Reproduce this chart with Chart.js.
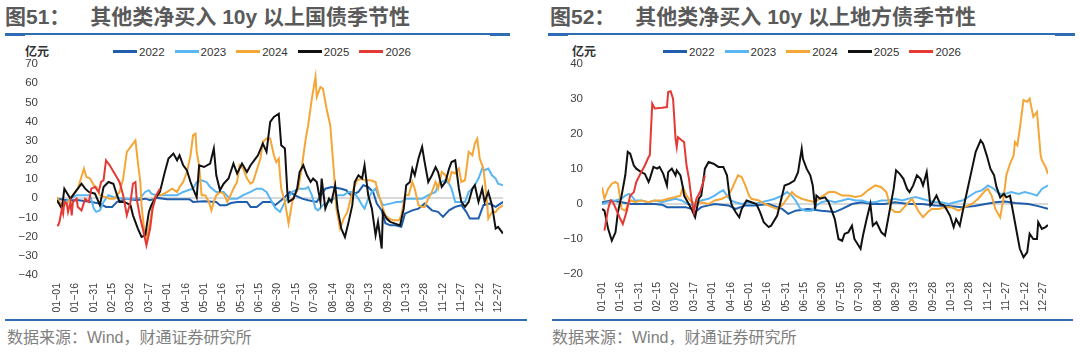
<!DOCTYPE html>
<html><head><meta charset="utf-8">
<script src="https://cdn.jsdelivr.net/npm/chart.js@4"></script>
<style>
body{margin:0;background:#fff;width:1080px;height:353px;overflow:hidden;position:relative;font-family:"Liberation Sans","Noto Sans CJK SC",sans-serif;}
.title{position:absolute;top:6px;font-size:21px;line-height:21px;font-weight:bold;color:#5a5a5a;white-space:nowrap;}
.title .gap{display:inline-block;width:20px;}
.rule{position:absolute;height:2px;background:#2e6db4;}
.cap{position:absolute;height:3px;background:#2e6db4;}
.unit{position:absolute;top:44px;font-size:12px;line-height:14px;font-weight:bold;color:#333;font-family:"Noto Sans CJK SC",sans-serif;}
.legend{position:absolute;top:44px;height:15px;display:flex;align-items:center;font-size:11.5px;color:#333;}
.legend .item{display:flex;align-items:center;margin-right:10px;}
.legend .sw{width:24px;height:3px;margin-right:2px;}
.src{position:absolute;top:330px;font-size:16px;line-height:16px;color:#808080;white-space:nowrap;}
canvas{position:absolute;top:56px;}
</style>
</head><body>

<div class="title" style="left:5px">图51：<span class="gap"></span>其他类净买入 10y 以上国债季节性</div>
<div class="title" style="left:550px">图52：<span class="gap"></span>其他类净买入 10y 以上地方债季节性</div>
<div class="rule" style="left:5px;width:505px;top:33px"></div>
<div class="cap" style="left:5px;width:20px;top:33px"></div>
<div class="cap" style="left:490px;width:20px;top:33px"></div>
<div class="rule" style="left:548px;width:527px;top:33px"></div>
<div class="cap" style="left:548px;width:20px;top:33px"></div>
<div class="cap" style="left:1055px;width:20px;top:33px"></div>

<div class="unit" style="left:25px">亿元</div>
<div class="unit" style="left:572px">亿元</div>
<div class="legend" id="legL" style="left:113px"></div>
<div class="legend" id="legR" style="left:663px"></div>

<canvas id="cL" width="540" height="262" style="left:0px"></canvas>
<canvas id="cR" width="540" height="262" style="left:540px"></canvas>

<div class="rule" style="left:5px;width:522px;top:319px"></div>
<div class="rule" style="left:552px;width:521px;top:319px"></div>
<div class="src" style="left:7px">数据来源：Wind，财通证券研究所</div>
<div class="src" style="left:552px">数据来源：Wind，财通证券研究所</div>

<script>
// categories: x tick labels (every 15th day of the year, day index 0 = 01-01)
const tickLabels = ['01−01','01−16','01−31','02−15','03−02','03−17','04−01','04−16','05−01','05−16','05−31','06−15','06−30','07−15','07−30','08−14','08−29','09−13','09−28','10−13','10−28','11−12','11−27','12−12','12−27'];
const seriesNames = ['2022','2023','2024','2025','2026'];
const seriesColors = ['#1f5eac','#5ab6f2','#f4a637','#111111','#e53935'];

// left chart: 10y+ treasury bonds, [dayIndex, value(亿元)]
const L2022 = [[0,-0.2],[8,-1],[18,-1],[28,-1.9],[35,-2.8],[40,-4.5],[45,-4.5],[49,-1.9],[57,-0.2],[65,-1],[72,-0.2],[76,-1],[82,0.2],[90,-0.5],[98,-0.5],[108,-0.5],[111,-1.9],[120,-1.5],[130,-1.9],[133,-3.6],[138,-3.6],[142,-2.5],[147,-1.9],[155,-1.9],[158,-4.5],[163,-4.5],[168,-1.9],[175,-1.9],[178,-3.6],[183,-1],[186,0.7],[190,3.3],[194,1.6],[200,-0.2],[205,-1],[212,-1.9],[216,2],[219,5],[224,5.9],[232,5],[236,4.2],[240,1.6],[246,3.3],[250,6.8],[254,5.9],[258,3.3],[261,-2.8],[265,-6.3],[268,-13],[272,-14.1],[276,-14.1],[281,-14.9],[284,-8],[290,-6.3],[295,-5.4],[300,-2.8],[306,-6.3],[311,-7.1],[315,-9.7],[320,-6.3],[325,-4.5],[330,-3.6],[334,-7.1],[337,-10.6],[344,-10.6],[348,-3.6],[353,-2.8],[358,-4.5],[364,-1.9]];
const L2023 = [[0,-1.9],[5,-2.8],[11,-0.2],[16,1.6],[22,1.6],[27,1.6],[30,-5.4],[32,-7.1],[35,-6.3],[38,-1.9],[42,1.6],[46,0.7],[51,0.2],[57,-0.2],[62,-0.2],[68,0.2],[72,3.3],[75,4.2],[77,2.4],[81,1.6],[87,1.6],[92,1.6],[98,1.6],[103,3.3],[107,4.2],[111,5],[114,8.5],[118,9.4],[122,8.5],[125,5.9],[130,3.3],[136,3.3],[141,-0.2],[147,-0.2],[152,1.6],[158,3.3],[163,5],[167,5],[171,3.3],[174,-0.2],[178,-5],[182,-7.1],[186,-1.9],[192,3.3],[197,5],[203,5],[205,5.9],[208,1.6],[211,-5.4],[213,-6.3],[217,-3.6],[222,-1.9],[226,-0.2],[229,1.6],[234,1.6],[238,3.3],[242,3.3],[246,-0.2],[249,-3.6],[251,-5.4],[254,-0.2],[257,3.3],[260,5],[262,1.6],[266,-3.6],[272,-2.8],[277,-1.9],[281,-1.9],[285,-0.2],[292,-0.2],[298,-0.2],[303,1.6],[309,3.3],[311,6.8],[314,8.5],[317,9.4],[320,7.6],[322,5],[325,-1.9],[329,-1.9],[333,-1.9],[336,3.3],[339,5],[341,6.8],[344,10.3],[347,15.5],[349,14.6],[352,15.5],[355,12],[358,10.3],[360,7.6],[364,6.8]];
const L2024 = [[0,0.7],[2,-1.9],[5,-4.5],[9,-1.9],[13,1.6],[17,5],[22,15.5],[24,11.1],[27,10.3],[30,6.8],[32,5.9],[35,1.6],[39,0.7],[43,-0.2],[47,-0.2],[51,3.3],[54,10.3],[57,24.2],[61,27.6],[64,30.2],[66,18.9],[68,8.5],[69,-3.6],[71,-15.8],[73,-20.2],[76,-12.3],[79,-0.2],[81,1.6],[85,1.6],[90,3.3],[94,5],[98,3.3],[100,5.9],[103,8.5],[106,13.7],[109,22.4],[111,32.8],[113,33.7],[114,24.2],[116,17.2],[118,1.6],[121,1.6],[124,-1.9],[126,-6.3],[128,-1.9],[130,1.6],[133,3.3],[136,2.4],[139,-1.9],[141,0.7],[144,5],[147,8.5],[149,17.2],[152,15.5],[155,10.3],[158,7.6],[160,8.5],[163,14.6],[166,20.7],[168,29.4],[171,31.1],[174,31.1],[177,22.4],[179,18.9],[181,20.7],[182,12],[183,5],[186,-1.9],[189,-13.2],[192,-1.9],[194,1.6],[197,5],[200,17.2],[203,31.1],[205,38.1],[208,52],[211,63.3],[212,52.8],[215,58],[217,57.2],[220,46.8],[223,38.1],[226,13.7],[228,-5.4],[231,-15.8],[234,-10.6],[237,-7.1],[239,-1.9],[242,5],[245,9.4],[249,10.3],[251,9.4],[256,9.4],[260,8.5],[262,3.3],[265,-3.6],[268,-8.9],[271,-10.6],[275,-11.5],[279,-11.5],[281,-8.9],[284,1.6],[287,1.6],[290,8.5],[292,5],[295,-3.6],[298,-4.5],[300,-4.5],[303,-0.2],[306,3.3],[309,8.5],[311,5],[314,13.7],[317,12],[320,8.5],[322,13.7],[325,12.9],[328,15.5],[330,8.5],[333,9.4],[336,24.2],[339,22.4],[341,28.5],[343,31.1],[345,20.7],[348,15.5],[351,-1.9],[352,-10.6],[355,-7.1],[358,-7.1],[360,-5.4],[364,-3.6]];
const L2025 = [[0,-1],[4,-5.4],[6,5],[11,-0.2],[15,3.3],[17,5],[20,7.6],[23,5],[26,3.3],[31,2.4],[35,-3.6],[38,5.9],[42,8.5],[46,7.6],[49,1.6],[51,-1.9],[55,-1.9],[60,-3.6],[62,-8.9],[66,-15.8],[69,-20.2],[72,-19.3],[75,-7.1],[77,-3.6],[80,-0.2],[84,3.3],[88,13.7],[91,20.7],[95,23.3],[98,19.8],[100,22.4],[103,17.2],[106,14.6],[109,8.5],[111,5],[114,0.5],[116,17.2],[120,16.3],[125,18.1],[128,25.9],[130,12],[133,4.2],[136,7.6],[140,10.3],[144,18.1],[147,12.9],[151,18.1],[155,13.7],[158,17.2],[162,20.7],[164,22.4],[168,28.5],[171,24.2],[174,39.8],[177,42.4],[181,44.1],[183,27.6],[186,25.9],[188,3.3],[189,-1.9],[193,-0.2],[196,5],[198,13.7],[201,17.2],[204,12],[207,8.5],[209,10.3],[212,8.5],[215,-1.9],[216,10.3],[219,-5.4],[222,-0.2],[224,-1.9],[227,6.8],[229,-5.4],[232,-15.8],[235,-20.2],[238,-12.3],[241,-3.6],[243,8.5],[246,12],[249,10.3],[251,17.2],[254,1.6],[257,-5.4],[260,-19.3],[262,-12.3],[265,-26.2],[266,-7.1],[269,-10.6],[272,-12.3],[276,-13.2],[280,-14.1],[283,-5.4],[285,6.8],[288,8.5],[290,15.5],[292,12],[295,20.7],[298,26.8],[300,19],[303,8.5],[306,12],[309,16.3],[311,13.7],[314,5.9],[317,8.5],[320,15.5],[322,18.9],[325,19.8],[328,5],[330,-1.9],[333,-4.5],[336,-1.9],[339,5],[341,6.8],[344,-1.9],[347,5],[349,-1.9],[352,3.3],[355,-3.6],[358,-15.8],[360,-14.9],[364,-18.4]];
const L2026 = [[0,-14],[1,-14.1],[2,-12.3],[4,-5.4],[5,-8],[6,-1.9],[8,-2.8],[9,-7.1],[11,-1.9],[12,-8.9],[13,-1.9],[16,-0.2],[17,-4.5],[20,-6.3],[23,-0.2],[26,-1.9],[28,5],[31,5.9],[34,3.3],[36,8.5],[38,9.4],[40,19.8],[43,17.2],[47,12.9],[51,8.5],[54,1.6],[57,-8.9],[60,-1.9],[62,7.6],[64,8.5],[65,-0.2],[68,-10.6],[70,-15.8],[73,-24.5],[76,-15.8],[78,-5.4],[81,1.6],[84,5]];

// right chart: 10y+ local government bonds
const R2022 = [[0,0.5],[8,1],[16,0.5],[24,0],[32,0],[43,0],[49,-0.2],[53,-0.9],[60,-0.9],[68,-0.9],[73,-1.4],[76,-2.3],[81,-0.9],[87,-0.4],[92,0],[103,-0.4],[109,-1.4],[117,-0.4],[125,-0.4],[136,0],[147,-1.4],[152,-2.8],[158,-1.9],[168,-1.4],[179,-1.9],[190,-2.3],[196,-1.4],[204,0],[212,0.5],[220,0],[231,0],[239,0.5],[250,0],[261,0],[272,-0.4],[283,-0.6],[294,-0.9],[304,-0.6],[313,0],[321,0.5],[329,0.7],[337,0.3],[348,0],[356,-0.6],[364,-1.4]];
const R2023 = [[0,0],[5,0.5],[11,1],[16,1.5],[19,2.4],[22,2.9],[24,2.4],[27,1],[32,1],[38,0.5],[43,1],[49,0.5],[54,1],[60,1.5],[65,1],[70,0],[76,-0.4],[81,1],[87,1.5],[92,2.4],[96,3.4],[99,3.9],[102,2.4],[105,1],[109,0.5],[114,0],[120,0.5],[125,0],[130,0.5],[136,1],[141,1.5],[147,2.4],[151,3.4],[155,2.4],[158,1],[162,-1.4],[166,-1.9],[171,-1.9],[175,-0.4],[179,0.5],[185,1],[190,0.5],[196,1],[201,1.5],[207,1],[212,1],[217,0.5],[223,0.5],[228,1],[234,1],[239,1.5],[245,1],[250,1.5],[256,2],[261,1.5],[266,1],[272,0.5],[277,0.5],[283,0],[288,0.5],[294,1],[299,2],[305,3.4],[310,3.9],[315,5.3],[320,4.3],[324,2.9],[329,2.9],[334,3.4],[340,2.9],[345,3.4],[351,2.9],[355,2.4],[359,4.3],[364,5.3]];
const R2024 = [[0,4.8],[2,1.5],[5,4.3],[8,5.8],[11,6.3],[13,5.8],[16,-1.4],[19,-1.9],[22,0.5],[24,1],[27,0.5],[32,1],[38,0.5],[43,1],[49,1],[54,1.5],[60,2],[64,2.4],[66,4.8],[69,2.4],[72,1],[76,0],[81,0.5],[87,0],[92,1],[98,1.5],[103,2.4],[106,4.3],[109,6.7],[111,8.2],[114,7.7],[117,5.3],[120,2.4],[122,1.5],[128,1],[133,0],[139,-0.9],[143,-1.4],[147,-0.4],[151,1.5],[155,3.4],[158,2.4],[163,1.5],[168,1],[174,0.5],[179,2],[185,3.4],[190,3.4],[196,2.4],[201,2.4],[207,2],[212,2.4],[217,3.9],[223,5.3],[228,4.8],[232,3.4],[236,-1.4],[239,-2.3],[243,-2.3],[249,0],[253,1.5],[258,-1.9],[262,-3.8],[266,-2.3],[269,-1.4],[275,-1.4],[280,-0.9],[285,-0.9],[291,-1.9],[296,-0.9],[302,0],[307,1.5],[313,3.9],[315,4.3],[318,2.4],[321,-1.4],[325,-3.8],[328,2.4],[330,8.2],[333,11.5],[336,13.9],[337,17.7],[339,16.8],[341,21.5],[344,29.7],[347,29.2],[349,30.1],[352,24.9],[355,26.3],[358,13.9],[359,12.5],[362,10.6],[364,8.6]];
const R2025 = [[0,-1.4],[2,-1.9],[5,-7.1],[8,-10.5],[11,-8.1],[13,-2.3],[16,2.4],[19,8.2],[21,14.9],[23,14.4],[26,11],[28,10.1],[32,9.1],[35,8.6],[38,6.3],[39,7.2],[42,10.6],[45,10.1],[47,10.6],[50,8.6],[53,5.3],[54,9.1],[57,10.1],[60,8.2],[61,9.6],[64,8.2],[66,4.8],[67,2.4],[70,0.5],[73,-1.4],[76,-3.8],[79,1.5],[81,2.4],[84,10.1],[87,12],[91,11.5],[95,10.6],[99,10.6],[102,8.2],[104,2.4],[106,-0.4],[109,-2.3],[112,-3.8],[114,-1.4],[118,1],[122,0.5],[126,0],[129,-2.3],[132,-5.2],[136,-6.6],[138,-6.2],[143,-3.3],[147,2.4],[149,5.3],[153,5.8],[157,6.7],[160,9.1],[163,15.8],[164,12.9],[167,10.1],[170,8.2],[172,5.3],[174,-1.4],[175,2.4],[178,1.5],[182,1.9],[185,0.5],[187,-1.4],[190,-4.3],[193,-10],[196,-10.5],[198,-8.5],[201,-8.1],[204,-6.2],[206,-10],[211,-12.8],[213,-9],[216,-4.3],[219,0],[221,-6.2],[224,-5.2],[228,-8.1],[231,-9],[235,-1.4],[238,4.3],[240,9.6],[243,8.6],[246,7.2],[249,4.3],[251,3.4],[254,5.3],[257,8.2],[260,7.2],[262,5.3],[265,9.1],[268,-0.4],[270,0.5],[273,2.4],[276,0],[279,-0.4],[281,-1.4],[284,-3.3],[287,-6.6],[289,-4.3],[292,-6.2],[294,-2.8],[296,0.5],[299,5.3],[302,10.1],[305,14.9],[309,18.2],[311,17.2],[314,13.9],[317,10.1],[320,8.2],[322,4.8],[325,1.9],[328,2.9],[330,1.9],[333,2.4],[336,-3.3],[339,-9],[341,-12.8],[344,-15.2],[347,-13.8],[349,-8.5],[352,-10],[355,-10],[356,-5.2],[359,-7.1],[362,-6.6],[364,-6]];
const R2026 = [[2,-7.6],[5,-1.4],[7,1],[9,0.5],[12,-1.9],[15,-4.3],[17,-5.7],[20,-2.3],[23,2.4],[26,3.4],[28,6.3],[32,9.1],[35,11],[38,13.4],[39,13.9],[41,28.7],[43,27.3],[49,27.5],[53,27.7],[54,32],[56,32.2],[58,30.1],[60,18.7],[61,16.3],[62,19.1],[65,18.2],[67,17.7],[69,11],[71,7.2],[73,1.5],[75,-2.3],[76,-0.4],[77,1.5],[80,3.4],[83,6.7],[84,8.2]];

const tickDays = tickLabels.map((_, i) => i * 15);

function buildLegend(id){
  const el = document.getElementById(id);
  seriesNames.forEach((n,i)=>{
    const it = document.createElement('div'); it.className='item';
    it.innerHTML = '<span class="sw" style="background:'+seriesColors[i]+'"></span><span>'+n+'</span>';
    el.appendChild(it);
  });
}
buildLegend('legL'); buildLegend('legR');

function makeChart(id, series, yMin, yMax, yAxisW, padRight, xAxisH){
  new Chart(document.getElementById(id), {
    type:'line',
    data:{ datasets: series.map((d,i)=>({
      label: seriesNames[i], data: d, borderColor: seriesColors[i], backgroundColor: seriesColors[i],
      borderWidth: 2, pointRadius: 0, tension: 0, fill: false, order: 4 - i
    }))},
    options:{
      responsive:false, animation:false,
      layout:{ padding:{ top:8, right:padRight, left:0, bottom:0 } },
      plugins:{ legend:{display:false}, tooltip:{enabled:false} },
      scales:{
        x:{ type:'linear', min:0, max:364,
          grid:{display:false, drawTicks:false}, border:{display:false},
          afterBuildTicks: a => { a.ticks = tickDays.map(v=>({value:v})); },
          afterFit: a => { a.height = xAxisH; },
          ticks:{ autoSkip:false, maxRotation:90, minRotation:90, padding:8, color:'#404040',
            font:{size:10.5, family:'Liberation Sans'}, callback:(v,i)=>tickLabels[i] } },
        y:{ min:yMin, max:yMax,
          grid:{ drawTicks:true, tickLength:19, tickColor:'rgba(0,0,0,0)', lineWidth:2,
                 color: c => (c.tick && c.tick.value===0) ? '#d9d9d9' : 'rgba(0,0,0,0)' },
          border:{display:false},
          afterFit: a => { a.width = yAxisW; },
          ticks:{ stepSize:10, padding:0, color:'#404040', font:{size:11.5, family:'Liberation Sans'},
            callback: v => v < 0 ? '\u2212' + (-v) : String(v) } }
      }
    }
  });
}
makeChart('cL', [L2022,L2023,L2024,L2025,L2026], -40, 70, 57, 37, 43);
makeChart('cR', [R2022,R2023,R2024,R2025,R2026], -20, 40, 62, 32, 44);
</script>
</body></html>
